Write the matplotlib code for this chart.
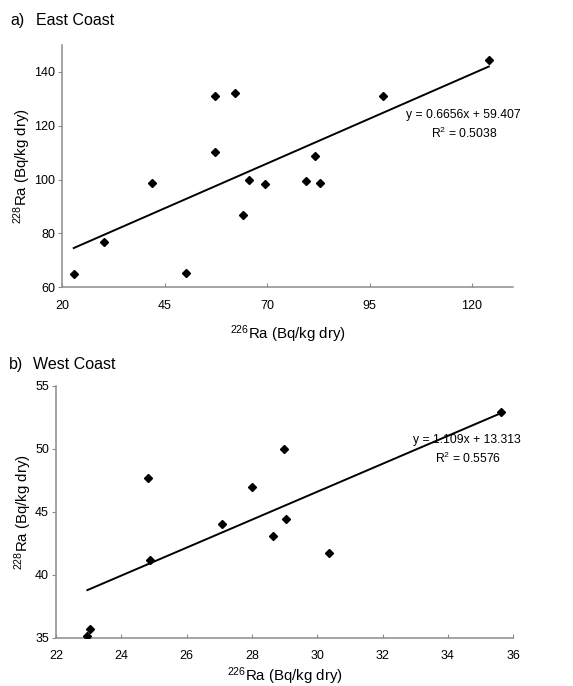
import matplotlib
matplotlib.use('Agg')
import matplotlib.pyplot as plt
import numpy as np

plt.rcParams['font.family'] = ['Liberation Sans', 'DejaVu Sans']
plt.rcParams['mathtext.fontset'] = 'custom'
plt.rcParams['mathtext.rm'] = 'Liberation Sans'
plt.rcParams['mathtext.it'] = 'Liberation Sans:italic'

# a) East Coast
east_ra226 = [22.8, 30.3, 41.9, 50.1, 57.3, 57.3, 62.2, 64.2, 65.6, 69.5, 79.5, 81.7, 82.9, 98.2, 124.1]
east_ra228 = [64.9, 76.7, 98.6, 65.2, 131.0, 110.1, 132.1, 86.8, 99.8, 98.3, 99.4, 108.6, 98.8, 131.0, 144.6]
east_fit = (0.6656, 59.407)
east_r2 = 0.5038

# b) West Coast
west_ra226 = [22.96, 23.04, 24.82, 24.87, 27.07, 28.0, 28.63, 28.97, 29.03, 30.37, 35.62]
west_ra228 = [35.13, 35.71, 47.7, 41.19, 44.0, 46.96, 43.04, 49.97, 44.44, 41.72, 52.88]
west_fit = (1.109, 13.313)
west_r2 = 0.5576

fig = plt.figure(figsize=(5.73, 6.86), dpi=100)
ax1 = fig.add_axes([0.1087, 0.5812, 0.7866, 0.3532])
ax2 = fig.add_axes([0.0977, 0.0704, 0.7980, 0.3674])

grey = '#8c8c8c'


def style(ax, xpad, ylab_x):
    for s in ['top', 'right']:
        ax.spines[s].set_visible(False)
    for s in ['left', 'bottom']:
        ax.spines[s].set_color(grey)
        ax.spines[s].set_linewidth(1.1)
    ax.tick_params(axis='y', direction='out', length=3, color=grey, labelsize=9, pad=2)
    ax.tick_params(axis='x', direction='in', length=3, color=grey, labelsize=9, pad=9)
    ax.set_xlabel('$^{\\mathrm{226}}$Ra (Bq/kg dry)', fontsize=10.8, labelpad=xpad)
    ax.set_ylabel('$^{\\mathrm{228}}$Ra (Bq/kg dry)', fontsize=10.8)
    ax.yaxis.set_label_coords(ylab_x, 0.5)


def panel(ax, x, y, fit):
    x = np.array(x)
    m, b = fit
    xs = np.array([x.min(), x.max()])
    ax.plot(xs, m * xs + b, color='black', lw=1.4, zorder=2)
    ax.plot(x, y, linestyle='none', marker='D', markersize=4.4, color='black', zorder=3)


panel(ax1, east_ra226, east_ra228, east_fit)
ax1.set_xlim(20, 130)
ax1.set_ylim(60, 150)
ax1.set_xticks([20, 45, 70, 95, 120])
ax1.set_yticks([60, 80, 100, 120, 140])
style(ax1, 8, -0.064)

panel(ax2, west_ra226, west_ra228, west_fit)
ax2.set_xlim(22, 36)
ax2.set_ylim(35, 55)
ax2.set_xticks(range(22, 37, 2))
ax2.set_yticks([35, 40, 45, 50, 55])
style(ax2, 2, -0.049)

# panel titles
fig.text(10 / 573, 1 - 25 / 686, 'a)', fontsize=11.5, va='baseline')
fig.text(36 / 573, 1 - 25 / 686, 'East Coast', fontsize=11.5, va='baseline')
fig.text(9 / 573, 1 - 369 / 686, 'b)', fontsize=11.5, va='baseline')
fig.text(33 / 573, 1 - 369 / 686, 'West Coast', fontsize=11.5, va='baseline')

# trend line equations
fig.text(463 / 573, 1 - 115 / 686, 'y = %.4fx + %.3f' % east_fit, fontsize=8.7, ha='center', va='center')
fig.text(464 / 573, 1 - 133 / 686, 'R$^{\\mathrm{2}}$ = %.4f' % east_r2, fontsize=8.7, ha='center', va='center')
fig.text(467 / 573, 1 - 440 / 686, 'y = %.3fx + %.3f' % west_fit, fontsize=8.7, ha='center', va='center')
fig.text(468 / 573, 1 - 458 / 686, 'R$^{\\mathrm{2}}$ = %.4f' % west_r2, fontsize=8.7, ha='center', va='center')

fig.savefig('out.png', dpi=100)
